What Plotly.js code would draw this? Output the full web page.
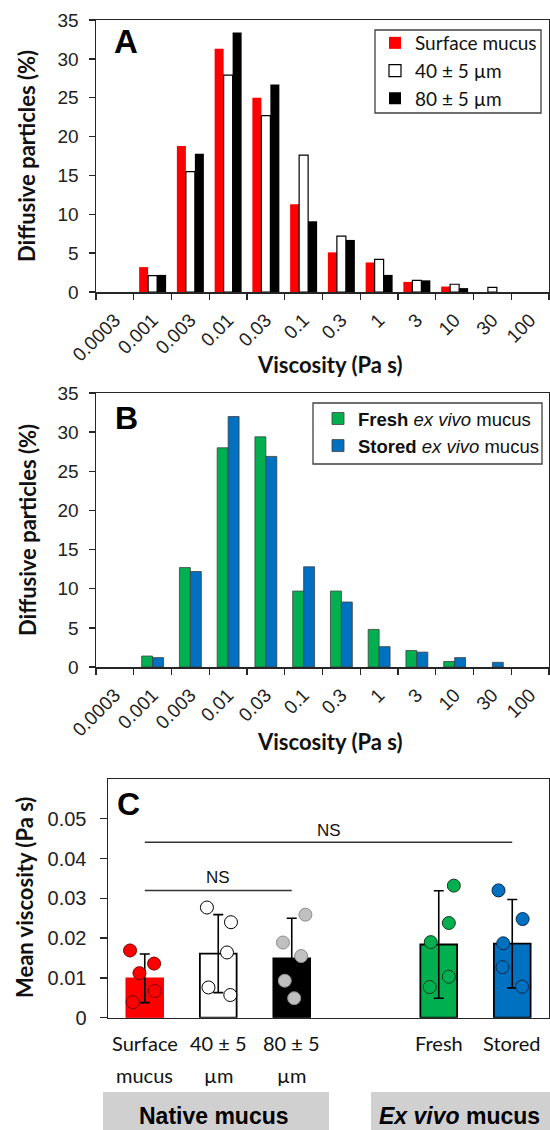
<!DOCTYPE html>
<html><head><meta charset="utf-8">
<script src="https://cdn.plot.ly/plotly-3.0.1.min.js"></script>
<style>html,body{margin:0;padding:0;background:#fff}#chart{width:550px;height:1130px}</style>
</head><body><div id="chart"></div>
<script>
// ---------- data ----------
const bins = ['0.0003','0.001','0.003','0.01','0.03','0.1','0.3','1','3','10','30','100'];
const surfaceMucus = [0, 3.2, 18.8, 31.3, 25.0, 11.3, 5.1, 3.8, 1.3, 0.7, 0, 0];
const depth40 = [0, 2.1, 15.5, 27.9, 22.7, 17.6, 7.2, 4.2, 1.5, 1.0, 0.6, 0];
const depth80 = [0, 2.2, 17.8, 33.4, 26.7, 9.1, 6.7, 2.2, 1.5, 0.5, 0, 0];
const freshExVivo = [0, 1.4, 12.7, 28.0, 29.4, 9.7, 9.7, 4.8, 2.1, 0.7, 0, 0];
const storedExVivo = [0, 1.2, 12.2, 32.0, 26.9, 12.8, 8.3, 2.6, 1.9, 1.2, 0.6, 0];

const groupLine1 = ['Surface', '40 ± 5', '80 ± 5', 'Fresh', 'Stored'];
const groupLine2 = ['mucus', 'µm', 'µm', '', ''];
const groupPos = [0, 1, 2, 4, 5];
const meanVisc = [0.0099, 0.0161, 0.0149, 0.0184, 0.0186];
const sdVisc = [0.0061, 0.0098, 0.0101, 0.0135, 0.0111];
const ptsSurface = [0.0169, 0.0136, 0.0112, 0.0067, 0.0039];
const ptsD40 = [0.0277, 0.0240, 0.0164, 0.0076, 0.0057];
const ptsD80 = [0.0189, 0.0259, 0.0155, 0.0093, 0.0049];
const ptsFresh = [0.0332, 0.0238, 0.0190, 0.0103, 0.0077];
const ptsStored = [0.0320, 0.0248, 0.0187, 0.0127, 0.0078];
const jitSurface = [-0.20, 0.127, -0.072, 0.137, -0.164];
const jitD40 = [-0.154, 0.173, 0.119, -0.133, 0.164];
const jitD80 = [-0.12, 0.186, 0.128, -0.095, 0.033];
const jitFresh = [0.205, 0.137, -0.109, 0.137, -0.123];
const jitStored = [-0.187, 0.141, -0.123, -0.133, 0.133];

// ---------- styles ----------
const W = 550, H = 1130;
const px = v => v / W, py = v => 1 - v / H;
const nz = a => a.map(v => v === 0 ? null : v);
const ARIAL = 'Liberation Sans, Arial, sans-serif';
const CAL = 'Lato, Open Sans, sans-serif';
const AX = '#262626';
const RED = '#FF0000', GREEN = '#00B050', BLUE = '#0070C0';

const traces = [
  {type:'bar', x:bins, y:nz(surfaceMucus), name:'Surface mucus', xaxis:'x', yaxis:'y', legend:'legend',
   marker:{color:RED, line:{color:RED, width:0}}},
  {type:'bar', x:bins, y:nz(depth40), name:'40 ± 5 µm', xaxis:'x', yaxis:'y', legend:'legend',
   marker:{color:'#FFFFFF', line:{color:'#000', width:1.2}}},
  {type:'bar', x:bins, y:nz(depth80), name:'80 ± 5 µm', xaxis:'x', yaxis:'y', legend:'legend',
   marker:{color:'#000000', line:{color:'#000', width:0}}},
  {type:'bar', x:bins, y:nz(freshExVivo), name:'<b>Fresh</b> <i>ex vivo</i> mucus', xaxis:'x2', yaxis:'y2', legend:'legend2',
   width:0.29, offset:-0.29,
   marker:{color:GREEN, line:{color:'#404040', width:0.8}}},
  {type:'bar', x:bins, y:nz(storedExVivo), name:'<b>Stored</b> <i>ex vivo</i> mucus', xaxis:'x2', yaxis:'y2', legend:'legend2',
   width:0.29, offset:0,
   marker:{color:BLUE, line:{color:'#404040', width:0.8}}},
  {type:'bar', x:groupPos, y:meanVisc, xaxis:'x3', yaxis:'y3', showlegend:false, width:0.5,
   offsetgroup:'c',
   marker:{color:[RED,'#FFFFFF','#000000',GREEN,BLUE], line:{color:[RED,'#000','#000','#000','#000'], width:1.8}},
   error_y:{type:'data', array:sdVisc, visible:true, color:'#000', thickness:1.6, width:5}}
];
const ptGroups = [
  [ptsSurface, jitSurface, 0, RED, '#7a0000'],
  [ptsD40, jitD40, 1, '#FFFFFF', '#000'],
  [ptsD80, jitD80, 2, '#C0C0C0', '#8c8c8c'],
  [ptsFresh, jitFresh, 4, GREEN, '#1a3a1a'],
  [ptsStored, jitStored, 5, BLUE, '#0a2a4a']
];
ptGroups.forEach(([vals, jit, pos, fill, edge]) => {
  traces.push({type:'scatter', mode:'markers', xaxis:'x3', yaxis:'y3', showlegend:false,
    x: jit.map(j => pos + j), y: vals,
    marker:{size:13, color:fill, line:{color:edge, width:1}}});
});

const histX = (anchor) => ({
  domain:[px(96), px(549)], anchor, type:'category', tickson:'boundaries',
  ticks:'outside', ticklen:6, tickwidth:1.3, tickcolor:AX, tickangle:-45,
  showline:true, linecolor:AX, linewidth:1.5, mirror:true, showgrid:false, zeroline:false,
  tickfont:{family:ARIAL, size:19, color:'#222'}, ticklabelstandoff:8, fixedrange:true
});
const histY = (anchor, dom) => ({
  domain:dom, anchor, range:[0,35], dtick:5, ticks:'outside', ticklen:6, tickwidth:1.3, tickcolor:AX,
  showline:true, linecolor:AX, linewidth:1.5, mirror:true, showgrid:false, zeroline:false,
  tickfont:{family:ARIAL, size:19, color:'#222'}, ticklabelstandoff:6
});

const ann = (text, x, y, font, extra) => Object.assign({text, x:px(x), y:py(y), xref:'paper', yref:'paper',
  showarrow:false, xanchor:'center', yanchor:'middle', font}, extra || {});

const TITLEF = {family:CAL, size:22, color:'#111'};
const annotations = [
  ann('<b>A</b>', 126, 41, {family:ARIAL, size:33, color:'#000'}),
  ann('<b>B</b>', 126, 418, {family:ARIAL, size:32, color:'#000'}),
  ann('<b>C</b>', 128, 804, {family:ARIAL, size:32, color:'#000'}),
  ann('<b>Diffusive particles (%)</b>', 27, 156, TITLEF, {textangle:-90}),
  ann('<b>Diffusive particles (%)</b>', 27, 530, TITLEF, {textangle:-90}),
  ann('<b>Mean viscosity (Pa s)</b>', 25, 898, TITLEF, {textangle:-90}),
  ann('<b>Viscosity (Pa s)</b>', 329, 365, TITLEF),
  ann('<b>Viscosity (Pa s)</b>', 329, 741, TITLEF),
  ann('<b>Native mucus</b>', 214, 1116, {family:ARIAL, size:23, color:'#000'}),
  ann('<b><i>Ex vivo</i> mucus</b>', 460, 1116, {family:ARIAL, size:23, color:'#000'}),
  {text:'NS', x:2.5, y:0.0441, xref:'x3', yref:'y3', showarrow:false, yanchor:'middle', yshift:12,
   font:{family:ARIAL, size:17, color:'#111'}},
  {text:'NS', x:1, y:0.032, xref:'x3', yref:'y3', showarrow:false, yanchor:'middle', yshift:13,
   font:{family:ARIAL, size:17, color:'#111'}}
];
groupPos.forEach((p, i) => {
  annotations.push({text:groupLine1[i], x:p, y:py(1043), xref:'x3', yref:'paper', showarrow:false,
    yanchor:'middle', font:{family:CAL, size:20, color:'#111'}});
  if (groupLine2[i]) annotations.push({text:groupLine2[i], x:p, y:py(1075), xref:'x3', yref:'paper', showarrow:false,
    yanchor:'middle', font:{family:CAL, size:20, color:'#111'}});
});

const box = (x0, x1, y0, y1) => ({type:'rect', xref:'paper', yref:'paper', x0:px(x0), x1:px(x1), y0:py(y1), y1:py(y0),
   fillcolor:'rgba(0,0,0,0)', line:{color:'#404040', width:1.3}, layer:'above'});
const shapes = [
  {type:'rect', xref:'paper', yref:'paper', x0:px(103), x1:px(329), y0:py(1130), y1:py(1092),
   fillcolor:'#D0D0D0', line:{width:0}, layer:'below'},
  {type:'rect', xref:'paper', yref:'paper', x0:px(371), x1:px(550), y0:py(1130), y1:py(1092),
   fillcolor:'#D0D0D0', line:{width:0}, layer:'below'},
  {type:'line', xref:'x3', yref:'y3', x0:0, x1:5, y0:0.0441, y1:0.0441, line:{color:'#333', width:1.5}},
  {type:'line', xref:'x3', yref:'y3', x0:0, x1:2, y0:0.032, y1:0.032, line:{color:'#333', width:1.5}},
  box(375, 541, 30, 113),
  box(313, 542, 403, 464)
];

const layout = {
  width:W, height:H, margin:{l:0, r:0, t:0, b:0}, paper_bgcolor:'#fff', plot_bgcolor:'#fff',
  barmode:'group', bargap:0.285, bargroupgap:0, showlegend:true,
  xaxis: histX('y'),
  yaxis: histY('x', [py(292), py(20)]),
  xaxis2: histX('y2'),
  yaxis2: histY('x2', [py(667), py(393)]),
  xaxis3: {domain:[px(108), px(549)], anchor:'y3', range:[-0.5, 5.5], showticklabels:false, ticks:'',
    showline:true, linecolor:AX, linewidth:1.5, mirror:true, showgrid:false, zeroline:false},
  yaxis3: {domain:[py(1017.7), py(779)], anchor:'x3', range:[0, 0.06], tickvals:[0,0.01,0.02,0.03,0.04,0.05],
    ticktext:['0','0.01','0.02','0.03','0.04','0.05'],
    ticks:'outside', ticklen:7, tickwidth:1.3, tickcolor:AX,
    showline:true, linecolor:AX, linewidth:1.5, mirror:true, showgrid:false, zeroline:false,
    tickfont:{family:ARIAL, size:20, color:'#222'}, ticklabelstandoff:9},
  legend: {x:px(375), y:py(24), xanchor:'left', yanchor:'top', borderwidth:0,
    bgcolor:'rgba(0,0,0,0)', font:{family:CAL, size:19, color:'#111'}, traceorder:'normal'},
  legend2: {x:px(318), y:py(400), xanchor:'left', yanchor:'top', borderwidth:0,
    bgcolor:'rgba(0,0,0,0)', font:{family:ARIAL, size:18.5, color:'#111'}, traceorder:'normal', tracegroupgap:0},
  annotations, shapes
};
Plotly.newPlot('chart', traces, layout, {staticPlot:true, displayModeBar:false});
</script></body></html>
